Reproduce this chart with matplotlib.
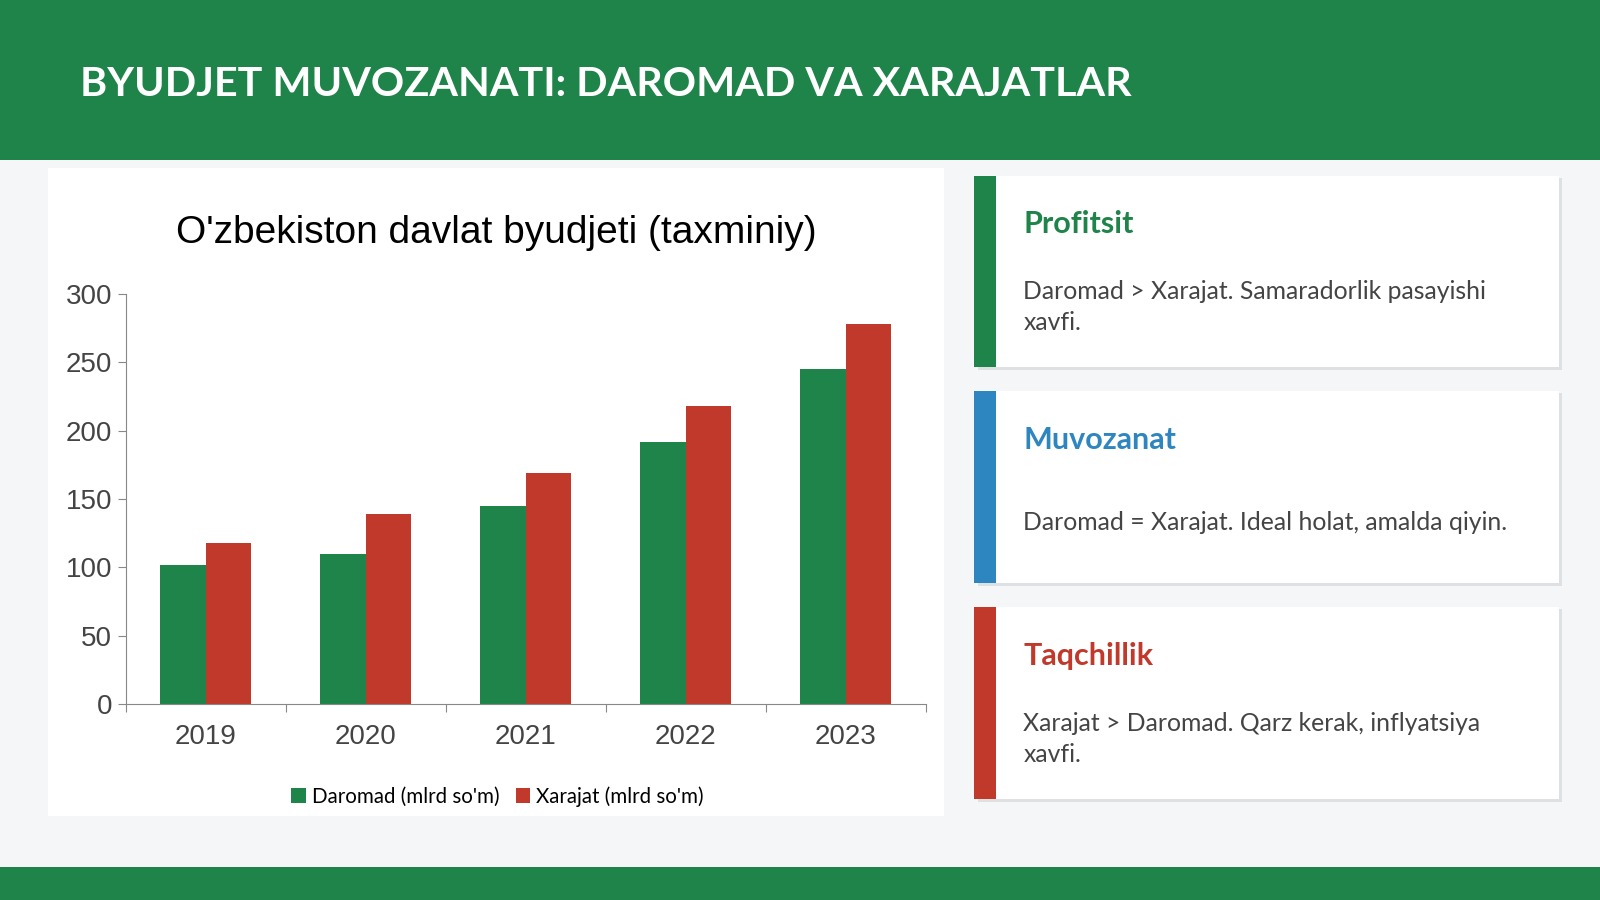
import matplotlib.pyplot as plt
import numpy as np
from matplotlib.patches import Rectangle

years = ["2019", "2020", "2021", "2022", "2023"]
daromad = [102, 110, 145, 192, 245]
xarajat = [118, 139, 169, 218, 278]

GREEN = "#1E8449"
RED = "#C0392B"
BLUE = "#2E86C1"
BG = "#F4F6F7"
TXT = "#444444"

W, H = 1568, 882
fig = plt.figure(figsize=(16, 9), dpi=100)
fig.patch.set_facecolor(BG)
bg = fig.add_axes([0, 0, 1, 1])
bg.set_xlim(0, W)
bg.set_ylim(H, 0)
bg.axis("off")

def rect(x, y, w, h, color, z=1, **kw):
    bg.add_patch(Rectangle((x, y), w, h, facecolor=color, edgecolor="none", zorder=z, **kw))

# header / footer
rect(0, 0, W, 157, GREEN)
rect(0, 850, W, 32, GREEN)
bg.text(78, 83, "BYUDJET MUVOZANATI: DAROMAD VA XARAJATLAR", color="white",
        fontsize=29.7, fontweight="bold", family="Lato", va="center", ha="left")

# chart panel
rect(47, 165, 878, 635, "white")
bg.text(486, 228, "O'zbekiston davlat byudjeti (taxminiy)", fontsize=28,
        ha="center", va="center", color="black", family="Liberation Sans")

# cards
cards = [
    (172, GREEN, "Profitsit", "Daromad > Xarajat. Samaradorlik pasayishi\nxavfi."),
    (383, BLUE, "Muvozanat", "Daromad = Xarajat. Ideal holat, amalda qiyin."),
    (595, RED, "Taqchillik", "Xarajat > Daromad. Qarz kerak, inflyatsiya\nxavfi."),
]
for y, col, title, body in cards:
    rect(958, y + 2, 573, 189, "#DDE1E3", z=1)
    rect(955, y, 573, 188, "white", z=2)
    rect(955, y, 21, 188, col, z=3)
    bg.text(1003, y + 48, title, color=col, fontsize=22, fontweight="bold",
            family="Lato", va="center", zorder=4)
    bg.text(1003, y + 129, body, color=TXT, fontsize=17.8, family="Lato",
            va="center", linespacing=1.4, zorder=4)

# bar chart
ax = fig.add_axes([123 / W, 1 - 690 / H, (907 - 123) / W, (690 - 288) / H])
ax.set_facecolor("white")
x = np.arange(len(years))
bw = 0.287
ax.bar(x - bw / 2, daromad, bw, color=GREEN, label="Daromad (mlrd so'm)")
ax.bar(x + bw / 2, xarajat, bw, color=RED, label="Xarajat (mlrd so'm)")
ax.set_xlim(-0.5, len(years) - 0.5)
ax.set_ylim(0, 300)
ax.set_yticks(range(0, 301, 50))
ax.set_xticks(np.arange(-0.5, len(years), 1))
ax.set_xticklabels([])
ax.set_xticks(x, minor=True)
ax.set_xticklabels(years, minor=True)
ax.tick_params(axis="x", which="minor", length=0, pad=14, labelsize=20)
ax.tick_params(axis="x", which="major", length=6, color="#888888")
ax.tick_params(axis="y", length=6, color="#888888", labelsize=20)
ax.tick_params(which="both", labelcolor="#444444")
for lab in ax.get_xticklabels(minor=True) + ax.get_yticklabels():
    lab.set_family("Liberation Sans")
for s in ["top", "right"]:
    ax.spines[s].set_visible(False)
for s in ["left", "bottom"]:
    ax.spines[s].set_color("#888888")
ax.legend(loc="upper center", bbox_to_anchor=(0.465, -0.155), ncol=2, frameon=False,
          handlelength=0.7, handleheight=0.7, handletextpad=0.3, columnspacing=0.8,
          prop={"family": "Lato", "size": 14.8})

fig.savefig("out.png", dpi=100, facecolor=fig.get_facecolor())
